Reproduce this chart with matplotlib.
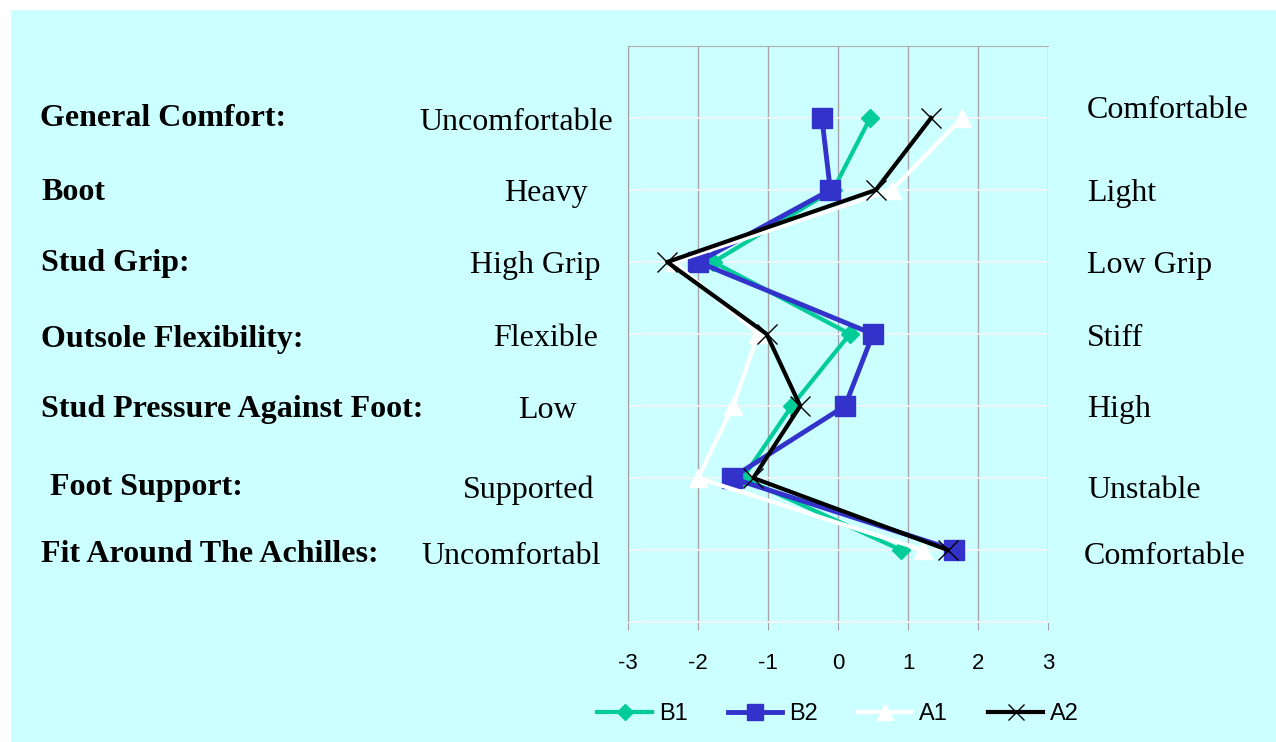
import numpy as np
import matplotlib
matplotlib.use("Agg")
import matplotlib.pyplot as plt
from matplotlib import patches, transforms

# rows, top to bottom
categories = ["General Comfort:", "Boot", "Stud Grip:", "Outsole Flexibility:",
              "Stud Pressure Against Foot:", "Foot Support:", "Fit Around The Achilles:"]
low_labels = ["Uncomfortable", "Heavy", "High Grip", "Flexible", "Low", "Supported", "Uncomfortabl"]
high_labels = ["Comfortable", "Light", "Low Grip", "Stiff", "High", "Unstable", "Comfortable"]

b1 = [0.46, -0.07, -1.78, 0.17, -0.66, -1.36, 0.90]
b2 = [-0.23, -0.11, -2.00, 0.50, 0.10, -1.52, 1.66]
a1 = [1.77, 0.77, -2.35, -1.14, -1.50, -2.00, 1.21]
a2 = [1.33, 0.54, -2.44, -1.02, -0.54, -1.21, 1.57]
series_names = ["B1", "B2", "A1", "A2"]
x_ticks = [-3, -2, -1, 0, 1, 2, 3]

W, H = 1276, 742
plt.rcParams['axes.unicode_minus'] = False

fig = plt.figure(figsize=(W / 100, H / 100), dpi=100, facecolor="white")
fig.patches.append(patches.Rectangle((11 / W, 0), 1 - 11 / W, 1 - 10 / H,
                                     transform=fig.transFigure, facecolor="#CCFFFF",
                                     edgecolor="none", zorder=-10))

ax = fig.add_axes([628 / W, 1 - 622 / H, 420 / W, 576 / H])
ax.set_facecolor("none")

rows = np.arange(1, len(categories) + 1)

ax.plot(b1, rows, color="#00CC99", lw=3, marker="D", ms=9, label=series_names[0], zorder=3)
ax.plot(b2, rows, color="#3333CC", lw=3.5, marker="s", ms=14, label=series_names[1], zorder=4)
ax.plot(a1, rows, color="white", lw=3, marker="^", ms=13, label=series_names[2], zorder=5)
ax.plot(a2, rows, color="black", lw=3, marker="x", ms=14, mew=1, label=series_names[3], zorder=6)

ax.set_xlim(-3, 3)
ax.set_ylim(8, 0)
ax.set_xticks(x_ticks)
ax.set_yticks(np.arange(0, 9))
ax.set_yticklabels([])
ax.tick_params(axis="y", length=0)
ax.tick_params(axis="x", length=6, color="#A0A0A0", pad=16, labelsize=16)
for lab in ax.get_xticklabels():
    lab.set_fontfamily("Liberation Sans")
ax.xaxis.grid(True, color="#A8A4A8", lw=1)
ax.yaxis.grid(True, color="#F4F4F4", lw=1.2)
ax.set_axisbelow(True)
ax.spines["right"].set_visible(False)
ax.spines["left"].set_color("#A0A0A0")
ax.spines["top"].set_color("#B0B0B0")
ax.spines["bottom"].set_color("#F4F4F4")

trans = transforms.blended_transform_factory(fig.transFigure, ax.transData)
bold_dy = [1, 2, 2, 6, 4, 9, 4]
bold_x = [40, 41, 41, 41, 41, 50, 41]
low_dy = [4, 3, 4, 5, 4, 12, 6]
low_right = [613, 588, 600, 598, 577, 594, 601]
high_dy = [-7, 3, 4, 5, 4, 12, 6]
high_x = [1087, 1087, 1087, 1087, 1087, 1087, 1084]

for i, r in enumerate(rows):
    fig.text(bold_x[i] / W, r + bold_dy[i] / 72, categories[i], transform=trans,
             ha="left", va="center", fontsize=23, fontweight="bold", family="Liberation Serif")
    fig.text(low_right[i] / W, r + low_dy[i] / 72, low_labels[i], transform=trans,
             ha="right", va="center", fontsize=23, family="Liberation Serif")
    fig.text(high_x[i] / W, r + high_dy[i] / 72, high_labels[i], transform=trans,
             ha="left", va="center", fontsize=23, family="Liberation Serif")

fig.legend(loc="center", bbox_to_anchor=(838 / W, 1 - 714 / H), ncol=4, frameon=False,
           handlelength=2.3, handletextpad=0.3, columnspacing=1.7, markerscale=0.85,
           prop={"family": "Liberation Sans", "size": 17})

fig.savefig("out.png", dpi=100, facecolor="white")
